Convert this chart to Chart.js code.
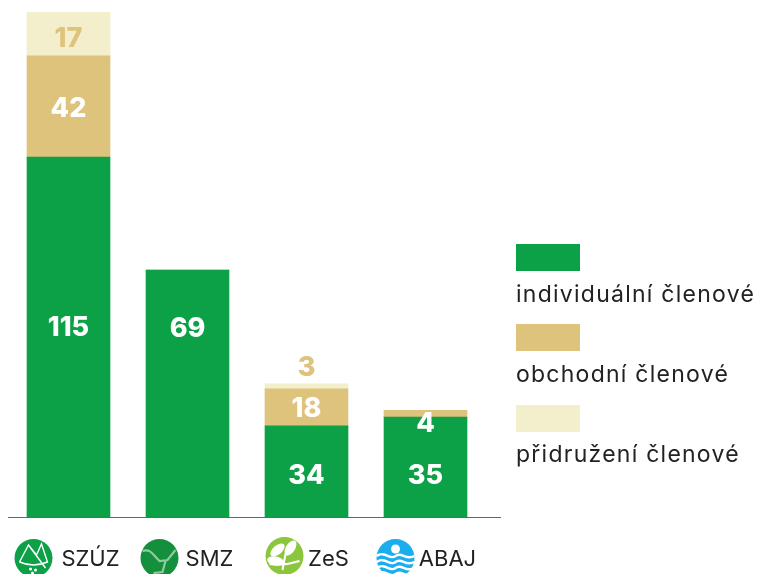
<!DOCTYPE html>
<html lang="cs"><head><meta charset="utf-8">
<script src="https://cdn.jsdelivr.net/npm/chart.js@4"></script>
<style>
html,body{margin:0;padding:0;background:#fff;overflow:hidden}
#wrap{position:relative;width:757px;height:574px}
canvas{position:absolute;left:0;top:0}
.sw{position:absolute;left:516px;width:64px;height:27px}
.tx{position:absolute;left:516px;font:400 23px Inter,"Noto Sans",sans-serif;letter-spacing:1.25px;color:#222;white-space:nowrap;line-height:28px}
</style></head><body>
<div id="wrap"><canvas id="c" width="757" height="574"></canvas></div>
<script>
const categories = ['SZÚZ','SMZ','ZeS','ABAJ'];
const seriesNames = ['individuální členové','obchodní členové','přidružení členové'];
// printed numbers
const printedIndividual = [115,69,34,35];
const printedBusiness = [42,null,18,4];
const printedAssociate = [17,null,3,null];
// bar lengths as drawn in the picture (not proportional to the printed numbers)
const drawnIndividual = [115,78.9,29.1,31.9];
const drawnBusiness = [32.3,0,11.8,2.2];
const drawnAssociate = [14.1,0,1.6,0];
const colors = ['#0DA147','#DEC37C','#F3EECB'];

const labelStyle = [
  {color:['#fff','#fff','#fff','#fff'], shift:[-9,-65,4.5,9]},
  {color:['#fff','#fff','#fff','#fff'], shift:[2,0,1.5,10]},
  {color:['#DEC37C','#DEC37C','#DEC37C','#DEC37C'], shift:[5,0,-18.5,0]}
];
const printed = [printedIndividual,printedBusiness,printedAssociate];

const valueLabels = {id:'valueLabels',afterDatasetsDraw(ch){
  const g=ch.ctx;g.save();g.textAlign='center';g.textBaseline='middle';
  g.font='800 27px Inter,"Noto Sans",sans-serif';
  printed.forEach((arr,d)=>{const m=ch.getDatasetMeta(d);
    arr.forEach((v,i)=>{if(v===null)return;const b=m.data[i];
      g.fillStyle=labelStyle[d].color[i];
      g.fillText(String(v),b.x,(b.y+b.base)/2+labelStyle[d].shift[i]);});});
  g.restore();
}};

function disc(g,x,y,r,col){g.fillStyle=col;g.beginPath();g.arc(x,y,r,0,Math.PI*2);g.fill();}
const iconDraw = [
 (g,x,y)=>{disc(g,x,y,19,'#0DA147');g.strokeStyle='#fff';g.lineWidth=1.4;g.beginPath();
   g.moveTo(x-14,y+4);g.lineTo(x-5,y-13);g.lineTo(x+3,y-3);g.lineTo(x+8,y-14);g.lineTo(x+14,y+4);g.quadraticCurveTo(x,y+10,x-14,y+4);
   g.moveTo(x-5,y-13);g.lineTo(x+12,y+10);g.stroke();
   g.fillStyle='#fff';[[-3,11],[2,12],[-1,15]].forEach(p=>{g.beginPath();g.arc(x+p[0],y+p[1],1.5,0,7);g.fill();});},
 (g,x,y)=>{disc(g,x,y,19,'#148F3C');g.strokeStyle='#8FCB9E';g.lineWidth=2.2;g.beginPath();
   g.moveTo(x-17,y-7);g.bezierCurveTo(x-8,y-10,x-6,y-2,x,y+3);g.lineTo(x+8,y+2);g.lineTo(x+16,y-8);
   g.moveTo(x+6,y+3);g.lineTo(x+3,y+14);g.lineTo(x-6,y+15);g.stroke();},
 (g,x,y)=>{disc(g,x,y-2,19,'#8CC63F');g.fillStyle='#fff';
   [[-7,-8,-.7],[6,-10,-1.0],[-9,3,.2]].forEach(p=>{g.beginPath();g.ellipse(x+p[0],y+p[1],8.5,4.5,p[2],0,7);g.fill();});
   g.strokeStyle='#fff';g.lineWidth=2;g.beginPath();g.moveTo(x-15,y+6);g.quadraticCurveTo(x,y+8,x+15,y+3);g.moveTo(x+1,y-4);g.lineTo(x-2,y+12);g.stroke();},
 (g,x,y)=>{disc(g,x,y,19,'#1AAEEF');g.strokeStyle='#fff';g.lineWidth=2.4;
   [-2,4,10,16].forEach(d=>{g.beginPath();g.moveTo(x-19,y+d);
     g.bezierCurveTo(x-10,y+d-6,x-6,y+d+5,x,y+d);g.bezierCurveTo(x+6,y+d-5,x+10,y+d+5,x+19,y+d);g.stroke();});
   disc(g,x,y-9,4.5,'#fff');}
];
const iconShift = [-35,-28,-22,-30];

const logos = {id:'logos',afterDraw(ch){
  const g=ch.ctx,s=ch.scales.x;g.save();
  categories.forEach((c,i)=>iconDraw[i](g,s.getPixelForValue(i)+iconShift[i],558));
  g.restore();
}};
const baseline = {id:'baseline',afterDatasetsDraw(ch){
  const g=ch.ctx,a=ch.chartArea,y=ch.scales.y.getPixelForValue(0);g.save();
  g.strokeStyle='#666';g.lineWidth=1;g.beginPath();g.moveTo(a.left-1,y+0.5);g.lineTo(a.right+16,y+0.5);g.stroke();
  g.restore();
}};

const drawn=[drawnIndividual,drawnBusiness,drawnAssociate];
new Chart(document.getElementById('c'),{
  type:'bar',
  data:{labels:categories,datasets:seriesNames.map((n,i)=>({label:n,data:drawn[i],backgroundColor:colors[i],stack:'s',barThickness:83,borderWidth:0}))},
  options:{responsive:false,animation:false,
    layout:{padding:{left:9,right:272,top:12,bottom:0}},
    plugins:{legend:{display:false},tooltip:{enabled:false}},
    scales:{
      x:{stacked:true,border:{display:false},grid:{display:false,drawTicks:false},
         afterFit(s){s.height=57;},
         ticks:{labelOffset:22,padding:29,autoSkip:false,maxRotation:0,color:'#222',font:{family:'Inter,"Noto Sans",sans-serif',size:22,weight:'400'}}},
      y:{stacked:true,display:false,min:0,max:161.3}
    }
  },
  plugins:[valueLabels,logos,baseline]
});
const wrap=document.getElementById('wrap');
const swatchTop=[244,324,405], textTop=[280,360,440];
seriesNames.forEach((n,i)=>{
  const s=document.createElement('div');s.className='sw';s.style.top=swatchTop[i]+'px';s.style.background=colors[i];wrap.appendChild(s);
  const t=document.createElement('div');t.className='tx';t.style.top=textTop[i]+'px';t.textContent=n;wrap.appendChild(t);
});
</script></body></html>
